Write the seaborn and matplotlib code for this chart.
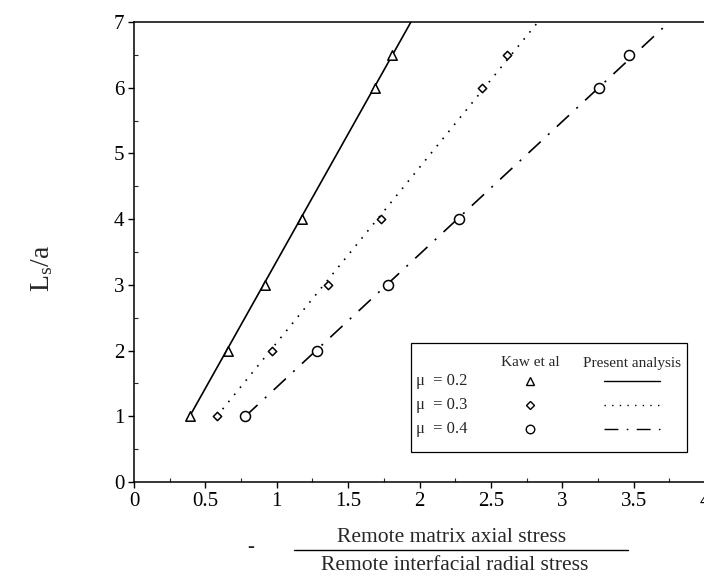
import matplotlib
matplotlib.use("Agg")
import matplotlib.pyplot as plt
from matplotlib.lines import Line2D
from matplotlib.patches import Rectangle
from matplotlib.ticker import MultipleLocator
import seaborn as sns
import pandas as pd

# Fibre pull-out: normalised slip length vs. remote stress ratio
ls_over_a = [1, 2, 3, 4, 6, 6.5]
kaw_mu02 = [0.39, 0.66, 0.92, 1.18, 1.69, 1.81]
kaw_mu03 = [0.58, 0.97, 1.36, 1.73, 2.44, 2.61]
kaw_mu04 = [0.78, 1.28, 1.78, 2.28, 3.26, 3.47]

# Present analysis (straight lines from L_s/a = 1 to the top of the plot)
line_y = [1, 7]
line_mu02 = [0.39, 1.94]
line_mu03 = [0.58, 2.83]
line_mu04 = [0.78, 3.75]

mu_labels = ["\u03bc  = 0.2", "\u03bc  = 0.3", "\u03bc  = 0.4"]
x_ticks = [0, 0.5, 1, 1.5, 2, 2.5, 3, 3.5, 4]
y_ticks = [0, 1, 2, 3, 4, 5, 6, 7]

sns.set_theme(style="ticks")
plt.rcParams["font.family"] = ["Liberation Serif", "DejaVu Serif"]
plt.rcParams["mathtext.fontset"] = "custom"
plt.rcParams["mathtext.rm"] = "Liberation Serif"
plt.rcParams["mathtext.it"] = "Liberation Serif"

W, H = 704, 587
fig = plt.figure(figsize=(W / 100, H / 100), dpi=100)
fig.patch.set_facecolor("white")

x0, x1 = 134, 705
y_top, y_bot = 22, 482
ax = fig.add_axes([x0 / W, 1 - y_bot / H, (x1 - x0) / W, (y_bot - y_top) / H])
ax.set_facecolor("white")

points = pd.DataFrame({
    "x": kaw_mu02 + kaw_mu03 + kaw_mu04,
    "y": ls_over_a * 3,
    "mu": ["0.2"] * 6 + ["0.3"] * 6 + ["0.4"] * 6,
})
lines = pd.DataFrame({
    "x": line_mu02 + line_mu03 + line_mu04,
    "y": line_y * 3,
    "mu": ["0.2"] * 2 + ["0.3"] * 2 + ["0.4"] * 2,
})

styles = {
    "0.2": "-",
    "0.3": (0, (1.0, 4.5)),
    "0.4": (0, (10, 6, 1.2, 6)),
}
for mu, st in styles.items():
    sub = lines[lines["mu"] == mu]
    sns.lineplot(data=sub, x="x", y="y", ax=ax, color="black", lw=1.2,
                 linestyle=st, sort=False, estimator=None, legend=False)

marker_style = {"0.2": ("^", 46), "0.3": ("D", 18), "0.4": ("o", 52)}
for mu, (m, s) in marker_style.items():
    sub = points[points["mu"] == mu]
    sns.scatterplot(data=sub, x="x", y="y", ax=ax, marker=m, s=s,
                    facecolor="white", edgecolor="black", linewidth=1.1,
                    legend=False, zorder=3)

ax.set_xlim(0, 4)
ax.set_ylim(0, 7)
ax.set_xticks(x_ticks)
ax.set_xticklabels([f"{t:g}" for t in x_ticks])
ax.set_yticks(y_ticks)
ax.xaxis.set_minor_locator(MultipleLocator(0.25))
ax.yaxis.set_minor_locator(MultipleLocator(0.5))
ax.tick_params(axis="both", which="major", direction="out", length=4,
               width=1, labelsize=15, colors="black", pad=3)
ax.tick_params(axis="both", which="minor", direction="in", length=3, width=0.8)
for side in ["left", "top", "bottom"]:
    ax.spines[side].set_color("black")
    ax.spines[side].set_linewidth(1.1)
ax.spines["right"].set_visible(False)
ax.set_xlabel("")
ax.set_ylabel("")

# y-axis title
fig.text(42 / W, 1 - 268 / H, r"L$_\mathregular{s}$/a", rotation=90,
         ha="center", va="center", fontsize=20)

# x-axis title as a fraction
fig.text(452 / W, 1 - 537 / H, "Remote matrix axial stress", ha="center",
         va="center", fontsize=15.5)
fig.add_artist(Line2D([294 / W, 628 / W], [1 - 550 / H, 1 - 550 / H],
                      color="black", lw=1.0))
fig.text(455 / W, 1 - 566 / H, "Remote interfacial radial stress",
         ha="center", va="center", fontsize=15.5)
fig.text(251 / W, 1 - 548 / H, "-", ha="center", va="center", fontsize=15)

# legend table
fig.add_artist(Rectangle((411 / W, 1 - 452 / H), (687 - 411) / W, (452 - 343) / H,
                         fill=False, ec="black", lw=0.9))
fig.text(530 / W, 1 - 363 / H, "Kaw et al", ha="center", va="center", fontsize=11)
fig.text(632 / W, 1 - 363 / H, "Present analysis", ha="center", va="center",
         fontsize=11)
row_y = [381, 405, 429]
for i, mu in enumerate(["0.2", "0.3", "0.4"]):
    yy = 1 - row_y[i] / H
    fig.text(416 / W, yy, mu_labels[i], ha="left", va="center", fontsize=12)
    m, s = marker_style[mu]
    fig.add_artist(Line2D([530 / W], [yy], marker=m, markersize=s ** 0.5 * 0.85,
                          mfc="white", mec="black", mew=1.0, ls="none"))
    fig.add_artist(Line2D([604 / W, 660 / W], [yy, yy], color="black", lw=1.0,
                          linestyle=styles[mu]))

fig.savefig("out.png", dpi=100, facecolor="white")
